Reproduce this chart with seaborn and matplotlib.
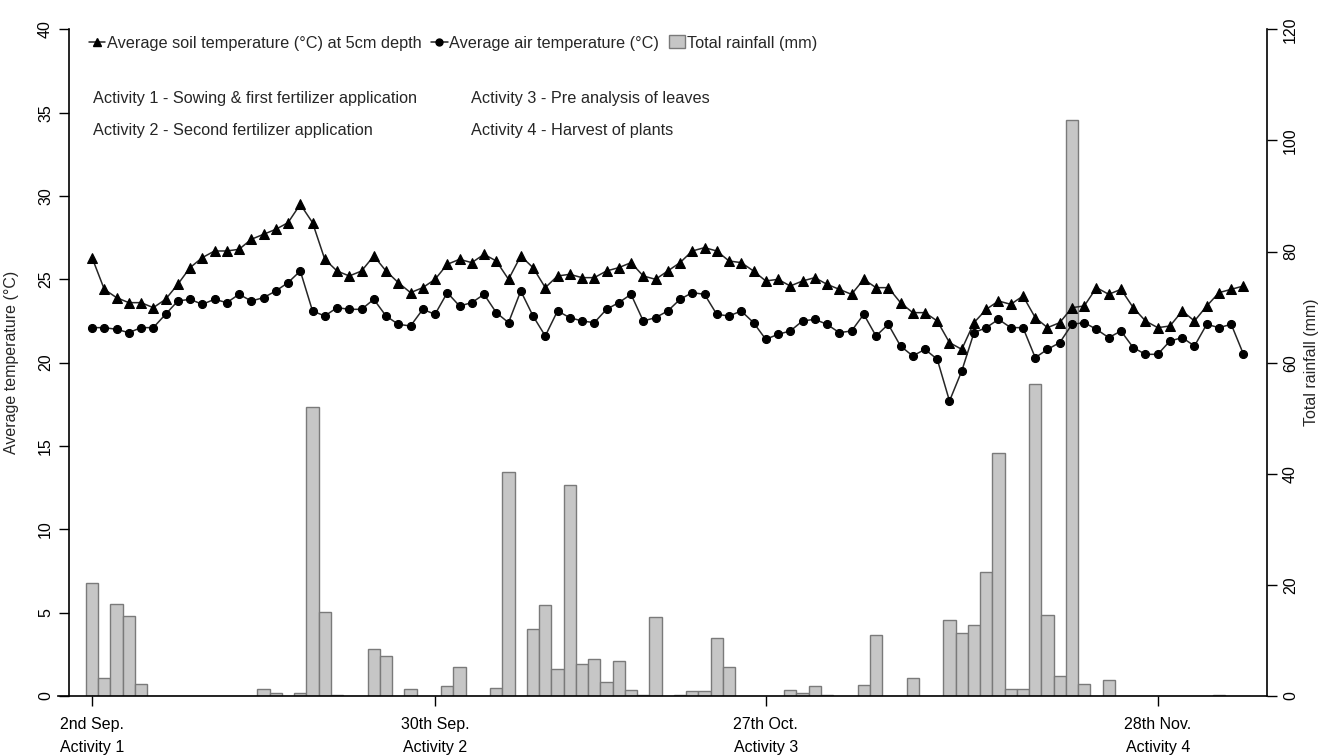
import numpy as np
import pandas as pd
import matplotlib
matplotlib.use('Agg')
import matplotlib.pyplot as plt
from matplotlib.lines import Line2D
from matplotlib.patches import Patch
import seaborn as sns

# daily values, starting 2nd Sep.
soil_temp = [26.3, 24.4, 23.9, 23.6, 23.6, 23.3, 23.8, 24.7, 25.7, 26.3,
             26.7, 26.7, 26.8, 27.4, 27.7, 28.0, 28.4, 29.5, 28.4, 26.2,
             25.5, 25.2, 25.5, 26.4, 25.5, 24.8, 24.2, 24.5, 25.0, 25.9,
             26.2, 26.0, 26.5, 26.1, 25.0, 26.4, 25.7, 24.5, 25.2, 25.3,
             25.1, 25.1, 25.5, 25.7, 26.0, 25.2, 25.0, 25.5, 26.0, 26.7,
             26.9, 26.7, 26.1, 26.0, 25.5, 24.9, 25.0, 24.6, 24.9, 25.1,
             24.7, 24.4, 24.1, 25.0, 24.5, 24.5, 23.6, 23.0, 23.0, 22.5,
             21.2, 20.8, 22.4, 23.2, 23.7, 23.5, 24.0, 22.7, 22.1, 22.4,
             23.3, 23.4, 24.5, 24.1, 24.4, 23.3, 22.5, 22.1, 22.2, 23.1,
             22.5, 23.4, 24.2, 24.4, 24.6]
air_temp = [22.1, 22.1, 22.0, 21.8, 22.1, 22.1, 22.9, 23.7, 23.8, 23.5,
            23.8, 23.6, 24.1, 23.7, 23.9, 24.3, 24.8, 25.5, 23.1, 22.8,
            23.3, 23.2, 23.2, 23.8, 22.8, 22.3, 22.2, 23.2, 22.9, 24.2,
            23.4, 23.6, 24.1, 23.0, 22.4, 24.3, 22.8, 21.6, 23.1, 22.7,
            22.5, 22.4, 23.2, 23.6, 24.1, 22.5, 22.7, 23.1, 23.8, 24.2,
            24.1, 22.9, 22.8, 23.1, 22.4, 21.4, 21.7, 21.9, 22.5, 22.6,
            22.3, 21.8, 21.9, 22.9, 21.6, 22.3, 21.0, 20.4, 20.8, 20.2,
            17.7, 19.5, 21.8, 22.1, 22.6, 22.1, 22.1, 20.3, 20.8, 21.2,
            22.3, 22.4, 22.0, 21.5, 21.9, 20.9, 20.5, 20.5, 21.3, 21.5,
            21.0, 22.3, 22.1, 22.3, 20.5]
rainfall = [20.4, 3.3, 16.5, 14.4, 2.2, 0, 0, 0, 0, 0,
            0, 0, 0, 0, 1.2, 0.5, 0, 0.5, 52.1, 15.1,
            0.1, 0, 0, 8.4, 7.2, 0, 1.2, 0, 0, 1.8,
            5.2, 0, 0, 1.4, 40.4, 0, 12.1, 16.3, 4.8, 37.9,
            5.8, 6.7, 2.5, 6.3, 1.0, 0.1, 14.2, 0, 0.1, 0.9,
            0.9, 10.4, 5.2, 0, 0, 0, 0, 1.0, 0.5, 1.8,
            0.2, 0, 0, 2.0, 11.0, 0, 0, 3.3, 0, 0,
            13.6, 11.4, 12.7, 22.4, 43.7, 1.2, 1.2, 56.2, 14.6, 3.6,
            103.7, 2.2, 0, 2.8, 0, 0, 0, 0, 0, 0,
            0, 0, 0.1, 0, 0]

tick_days = [0, 28, 55, 87]
tick_dates = ['2nd Sep.', '30th Sep.', '27th Oct.', '28th Nov.']
tick_activities = ['Activity 1', 'Activity 2', 'Activity 3', 'Activity 4']
activity_notes = ['Activity 1 - Sowing & first fertilizer application',
                  'Activity 2 - Second fertilizer application',
                  'Activity 3 - Pre analysis of leaves',
                  'Activity 4 - Harvest of plants']
legend_labels = ['Average soil temperature (\u00b0C) at 5cm depth',
                 'Average air temperature (\u00b0C)',
                 'Total rainfall (mm)']

df = pd.DataFrame({'day': np.arange(len(soil_temp)), 'soil': soil_temp,
                   'air': air_temp, 'rain': rainfall})

sns.set_style('ticks')
plt.rcParams['font.family'] = ['Liberation Sans', 'DejaVu Sans']
plt.rcParams['axes.edgecolor'] = 'black'

W, H = 1323, 756
fig = plt.figure(figsize=(W / 100, H / 100), dpi=100)
ax = fig.add_axes([58 / W, 60 / H, 1209 / W, 666.7 / H])
ax2 = ax.twinx()

bar_fill = '#c6c6c6'
bar_edge = '#7a7a7a'
line_col = '#262626'

sns.barplot(data=df, x='day', y='rain', native_scale=True, width=1,
            color=bar_fill, edgecolor=bar_edge, linewidth=1, saturation=1,
            errorbar=None, ax=ax2)
sns.lineplot(data=df, x='day', y='soil', ax=ax, color=line_col, linewidth=1.1,
             marker='^', markersize=6.8, markerfacecolor='black',
             markeredgecolor='black')
sns.lineplot(data=df, x='day', y='air', ax=ax, color=line_col, linewidth=1.1,
             marker='o', markersize=5.8, markerfacecolor='black',
             markeredgecolor='black')

ax.set_zorder(ax2.get_zorder() + 1)
ax.patch.set_visible(False)

ax.set_xlim(-2.78, 95.92)
ax.set_ylim(0, 40)
ax2.set_ylim(0, 120)

ax.set_yticks(range(0, 41, 5))
ax2.set_yticks(range(0, 121, 20))
ax.set_xticks(tick_days)
ax.set_xticklabels([d + '\n' + a for d, a in zip(tick_dates, tick_activities)],
                   linespacing=1.65)

# spines like base R axes
for s in ['top', 'right']:
    ax.spines[s].set_visible(False)
for s in ['top', 'left', 'bottom']:
    ax2.spines[s].set_visible(False)
ax.spines['left'].set_position(('axes', 11 / 1209))
ax.spines['left'].set_bounds(0, 40)
ax2.spines['right'].set_bounds(0, 120)
for sp in [ax.spines['left'], ax.spines['bottom'], ax2.spines['right']]:
    sp.set_linewidth(1.2)
    sp.set_color('black')

ax.tick_params(axis='both', length=7.5, width=1, color='black',
               labelsize=11.5, labelcolor='black', pad=4)
ax.tick_params(axis='x', pad=7.5)
ax.tick_params(axis='y', labelrotation=90, pad=4)
ax2.tick_params(axis='y', length=7.5, width=1, color='black',
                labelsize=11.5, labelcolor='black', labelrotation=90, pad=4)
for lab in ax.get_yticklabels() + ax2.get_yticklabels():
    lab.set_va('center')

ax.set_xlabel('')
ax.set_ylabel('Average temperature (\u00b0C)', fontsize=11.5)
ax2.set_ylabel('Total rainfall (mm)', fontsize=11.5, rotation=90)
ax.yaxis.set_label_coords(-0.0323, 0.5)
ax2.yaxis.set_label_coords(1.0302, 0.5)

handles = [
    Line2D([], [], color=line_col, lw=1.1, marker='^', markersize=6,
           markerfacecolor='black', markeredgecolor='black'),
    Line2D([], [], color=line_col, lw=1.1, marker='o', markersize=5,
           markerfacecolor='black', markeredgecolor='black'),
    Patch(facecolor=bar_fill, edgecolor=bar_edge),
]
fig.legend(handles, legend_labels, loc='center left',
           bbox_to_anchor=(89 / W, 1 - 43 / H), ncol=3, frameon=False,
           fontsize=11.7, handlelength=1.0, handleheight=0.85,
           handletextpad=0.1, columnspacing=0.6, borderpad=0,
           borderaxespad=0)

note_x = [93 / W, 93 / W, 471 / W, 471 / W]
note_y = [1 - 98 / H, 1 - 131 / H, 1 - 98 / H, 1 - 131 / H]
for txt, nx, ny in zip(activity_notes, note_x, note_y):
    fig.text(nx, ny, txt, fontsize=11.7, va='center', ha='left')

fig.savefig('out.png', dpi=100)
